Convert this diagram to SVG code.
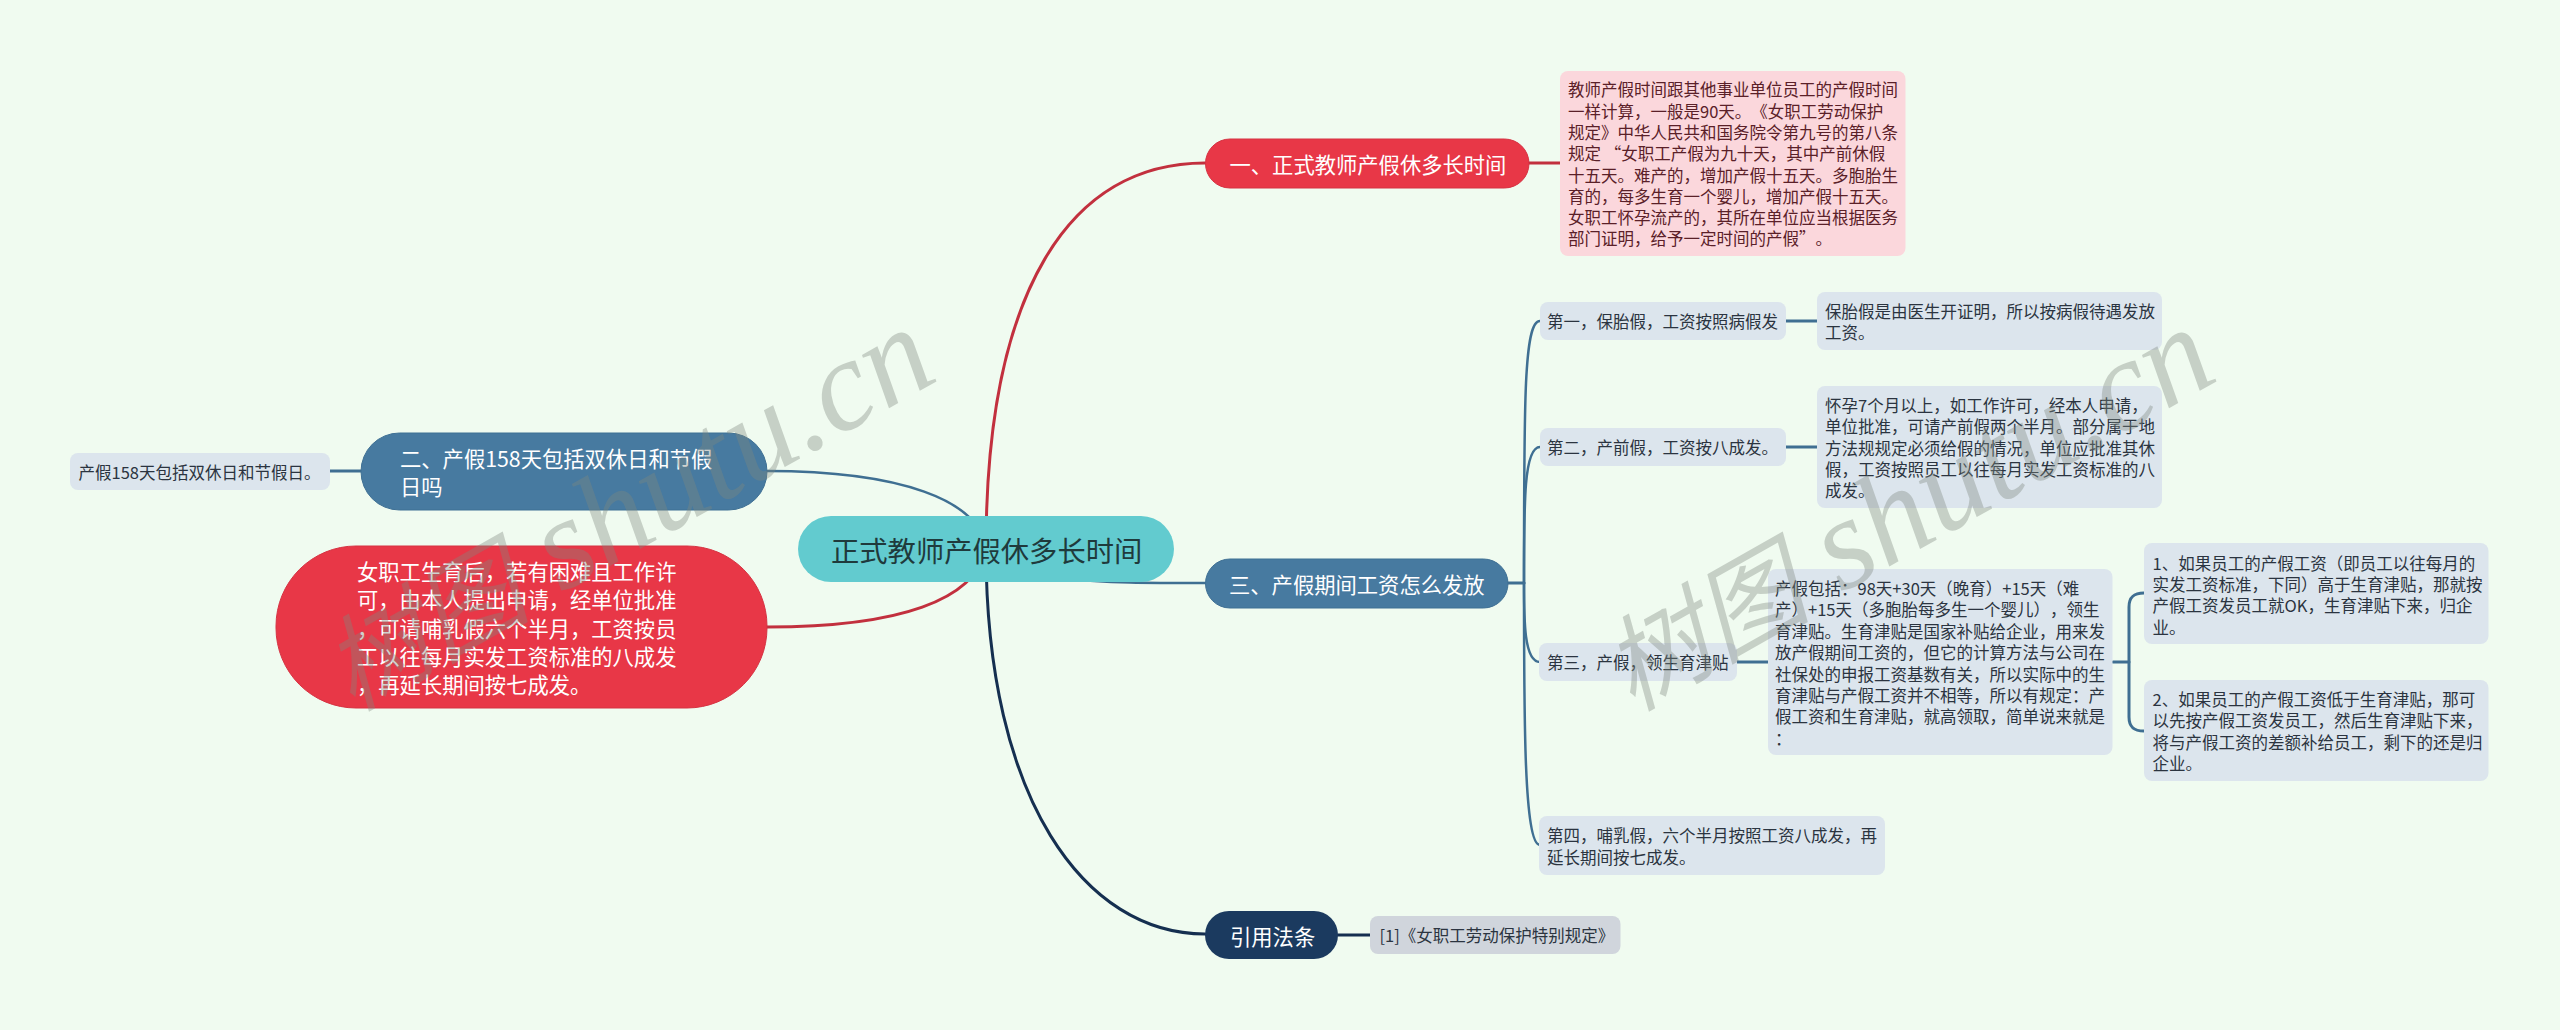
<svg xmlns="http://www.w3.org/2000/svg" width="2560" height="1030" viewBox="0 0 2560 1030">
<style>
text{font-family:"Noto Sans CJK SC","Noto Sans",sans-serif;dominant-baseline:central;text-spacing-trim:space-all}
.c{fill:none;stroke-linecap:round}
.red{stroke:#c2303e;stroke-width:3}
.blue{stroke:#3f6f92;stroke-width:3}
.navy{stroke:#152f50;stroke-width:3}
.thin{stroke-width:2.5}
.leaf{fill:#dce5ed}
.s{font-size:16.5px;fill:#2b3440}
.p{font-size:16.5px;fill:#5a2028}
.m{font-size:21.300px;fill:#fff}
.rd{fill:#e83747;stroke:#d63242;stroke-width:1}
.bl{fill:#477aa0;stroke:#3f7094;stroke-width:1}
.wm{font-family:"Liberation Serif","Noto Sans CJK SC",serif;font-style:italic;font-size:130px;fill:#7f887f;opacity:.37;dominant-baseline:auto}
.wc{font-family:"Noto Sans CJK SC",sans-serif;font-size:104px;font-weight:400}
</style>
<rect width="2560" height="1030" fill="#f0fbf0"/>
<g id="connectors">
<path class="c red" d="M986 549C986 290 1070 163 1205 163"/>
<path class="c blue thin" d="M986 549C1010 583 1100 583 1205 583"/>
<path class="c navy" d="M986 549C986 800 1085 934 1205 934"/>
<path class="c blue thin" d="M986 549C980 500 900 471 767 471"/>
<path class="c red" d="M986 549C975 600 900 627 767 627"/>
<path class="c blue" d="M330 471H361"/>
<path class="c red" d="M1529 163H1560"/>
<path class="c blue" d="M1508 583H1524"/>
<path class="c navy" d="M1338 935H1370"/>
<path class="c blue thin" d="M1524 583C1524 400 1524 321 1540 321"/>
<path class="c blue thin" d="M1524 583C1524 500 1524 447 1540 447"/>
<path class="c blue thin" d="M1524 583C1524 620 1524 662 1540 662"/>
<path class="c blue thin" d="M1524 583C1524 720 1524 845 1540 845"/>
<path class="c blue" d="M1786 321H1817M1786 447H1817M1737 662H1768M2113 662H2129"/>
<path class="c blue" d="M2144 593C2134 593 2129 597 2129 607V717C2129 727 2134 731 2144 731"/>
</g>
<g id="root"><rect x="798" y="516" width="376" height="66" rx="33" fill="#62cbcf"/><text x="831" y="549" font-size="28.300" fill="#1f3a3c">正式教师产假休多长时间</text></g>
<g id="n1"><rect class="rd" x="1205.500" y="139" width="323.500" height="49" rx="24.500"/><text class="m" x="1229.500" y="163">一、正式教师产假休多长时间</text></g>
<g id="n1a"><rect x="1560" y="71" width="345.500" height="185" rx="8" fill="#fbd7dc"/>
<text class="p" x="1568" y="89.300">教师产假时间跟其他事业单位员工的产假时间</text>
<text class="p" x="1568" y="110.600">一样计算，一般是90天。《女职工劳动保护</text>
<text class="p" x="1568" y="131.900">规定》中华人民共和国务院令第九号的第八条</text>
<text class="p" x="1568" y="153.200">规定 “女职工产假为九十天，其中产前休假</text>
<text class="p" x="1568" y="174.500">十五天。难产的，增加产假十五天。多胞胎生</text>
<text class="p" x="1568" y="195.800">育的，每多生育一个婴儿，增加产假十五天。</text>
<text class="p" x="1568" y="217.100">女职工怀孕流产的，其所在单位应当根据医务</text>
<text class="p" x="1568" y="238.400">部门证明，给予一定时间的产假”。</text></g>
<g id="n2"><rect class="bl" x="361" y="433" width="406" height="77" rx="38.500"/><text class="m" x="400" y="457.300">二、产假158天包括双休日和节假</text><text class="m" x="400" y="485.700">日吗</text></g>
<g id="n2a"><rect class="leaf" x="70" y="453" width="260" height="37" rx="8"/><text class="s" x="78.500" y="471.500">产假158天包括双休日和节假日。</text></g>
<g id="n4"><rect class="rd" x="276" y="546" width="491" height="162" rx="80"/>
<text class="m" x="357" y="570.700">女职工生育后，若有困难且工作许</text>
<text class="m" x="357" y="598.900">可，由本人提出申请，经单位批准</text>
<text class="m" x="357" y="627.100">，可请哺乳假六个半月，工资按员</text>
<text class="m" x="357" y="655.300">工以往每月实发工资标准的八成发</text>
<text class="m" x="357" y="683.500">，再延长期间按七成发。</text></g>
<g id="n3"><rect class="bl" x="1205.500" y="559" width="302.500" height="49" rx="24.500"/><text class="m" x="1229" y="583">三、产假期间工资怎么发放</text></g>
<g id="n31"><rect class="leaf" x="1540" y="302" width="246" height="38" rx="8"/><text class="s" x="1547" y="321">第一，保胎假，工资按照病假发</text></g>
<g id="n31a"><rect class="leaf" x="1817" y="292" width="345" height="58" rx="8"/><text class="s" x="1825" y="310.700">保胎假是由医生开证明，所以按病假待遇发放</text><text class="s" x="1825" y="332">工资。</text></g>
<g id="n32"><rect class="leaf" x="1540" y="428" width="246" height="38" rx="8"/><text class="s" x="1547" y="447">第二，产前假，工资按八成发。</text></g>
<g id="n32a"><rect class="leaf" x="1817" y="386" width="345" height="122" rx="8"/>
<text class="s" x="1825" y="405">怀孕7个月以上，如工作许可，经本人申请，</text>
<text class="s" x="1825" y="426.300">单位批准，可请产前假两个半月。部分属于地</text>
<text class="s" x="1825" y="447.600">方法规规定必须给假的情况，单位应批准其休</text>
<text class="s" x="1825" y="468.900">假，工资按照员工以往每月实发工资标准的八</text>
<text class="s" x="1825" y="490.200">成发。</text></g>
<g id="n33"><rect class="leaf" x="1539" y="643" width="198" height="38" rx="8"/><text class="s" x="1547" y="662">第三，产假，领生育津贴</text></g>
<g id="n33a"><rect class="leaf" x="1768" y="569" width="344.500" height="186" rx="8"/>
<text class="s" x="1775" y="588">产假包括：98天+30天（晚育）+15天（难</text>
<text class="s" x="1775" y="609.400">产）+15天（多胞胎每多生一个婴儿），领生</text>
<text class="s" x="1775" y="630.800">育津贴。生育津贴是国家补贴给企业，用来发</text>
<text class="s" x="1775" y="652.200">放产假期间工资的，但它的计算方法与公司在</text>
<text class="s" x="1775" y="673.600">社保处的申报工资基数有关，所以实际中的生</text>
<text class="s" x="1775" y="695">育津贴与产假工资并不相等，所以有规定：产</text>
<text class="s" x="1775" y="716.400">假工资和生育津贴，就高领取，简单说来就是</text>
<text class="s" x="1775" y="737.800">：</text></g>
<g id="n33b"><rect class="leaf" x="2144" y="543" width="344.500" height="101" rx="8"/>
<text class="s" x="2152.500" y="562.700">1、如果员工的产假工资（即员工以往每月的</text>
<text class="s" x="2152.500" y="584">实发工资标准，下同）高于生育津贴，那就按</text>
<text class="s" x="2152.500" y="605.300">产假工资发员工就OK，生育津贴下来，归企</text>
<text class="s" x="2152.500" y="626.600">业。</text></g>
<g id="n33c"><rect class="leaf" x="2144" y="680" width="344.500" height="101" rx="8"/>
<text class="s" x="2152.500" y="699">2、如果员工的产假工资低于生育津贴，那可</text>
<text class="s" x="2152.500" y="720.300">以先按产假工资发员工，然后生育津贴下来，</text>
<text class="s" x="2152.500" y="741.600">将与产假工资的差额补给员工，剩下的还是归</text>
<text class="s" x="2152.500" y="762.900">企业。</text></g>
<g id="n34"><rect class="leaf" x="1539" y="816" width="346" height="59" rx="8"/><text class="s" x="1547" y="835">第四，哺乳假，六个半月按照工资八成发，再</text><text class="s" x="1547" y="856.500">延长期间按七成发。</text></g>
<g id="n5"><rect x="1205" y="911" width="133" height="48" rx="24" fill="#1b3a5f"/><text class="m" x="1230" y="935">引用法条</text></g>
<g id="n5a"><rect x="1370" y="916" width="250.500" height="38" rx="8" fill="#d0d5dc"/><text class="s" x="1379.500" y="935">[1]《女职工劳动保护特别规定》</text></g>
<g id="watermarks">
<text class="wm" transform="translate(352 712) rotate(-29.500)"><tspan class="wc">树图</tspan> shutu.cn</text>
<text class="wm" transform="translate(1632 712) rotate(-29.500)"><tspan class="wc">树图</tspan> shutu.cn</text>
</g>
</svg>
